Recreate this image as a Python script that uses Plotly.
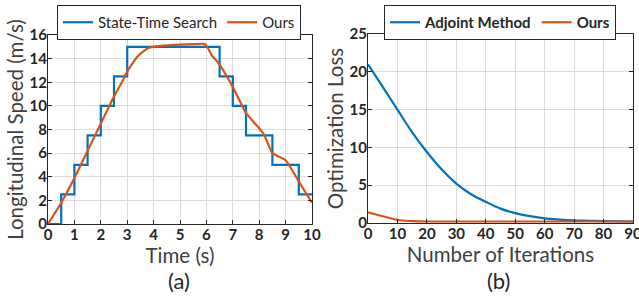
import plotly.graph_objects as go

# ---- data (a) ----
step_t = [0, 0.5, 0.5, 1.0, 1.0, 1.5, 1.5, 2.0, 2.0, 2.5, 2.5, 3.0, 3.0, 6.5, 6.5, 7.0, 7.0, 7.5, 7.5, 8.5, 8.5, 9.5, 9.5, 10]
step_v = [0, 0, 2.5, 2.5, 5, 5, 7.5, 7.5, 10, 10, 12.5, 12.5, 15, 15, 12.5, 12.5, 10, 10, 7.5, 7.5, 5, 5, 2.5, 2.5]
ours_t = [0, 0.5, 1.0, 1.5, 2.0, 2.5, 2.8, 3.0, 3.2, 3.4, 3.6, 3.8, 4.0, 4.5, 5.0, 5.5, 5.9, 6.0, 6.2, 6.5, 7.0, 7.5, 7.8, 8.0, 8.2, 8.5, 9.0, 9.5, 10]
ours_v = [0, 1.8, 3.9, 6.2, 8.5, 10.8, 12.0, 12.9, 13.6, 14.2, 14.6, 14.9, 15.0, 15.12, 15.18, 15.22, 15.25, 15.1, 14.3, 13.5, 11.6, 9.4, 8.6, 8.1, 7.5, 6.0, 5.4, 3.6, 1.8]

# ---- data (b) ----
iters = [0, 5, 10, 15, 20, 25, 30, 35, 40, 45, 50, 55, 60, 65, 70, 75, 80, 85, 90]
adjoint_loss = [21.0, 18.0, 15.0, 12.0, 9.4, 7.1, 5.2, 3.8, 2.8, 1.9, 1.3, 0.9, 0.6, 0.45, 0.35, 0.3, 0.25, 0.22, 0.2]
ours_loss = [1.4, 0.9, 0.4, 0.25, 0.2, 0.2, 0.2, 0.2, 0.2, 0.2, 0.2, 0.2, 0.2, 0.2, 0.2, 0.2, 0.2, 0.2, 0.2]

BLUE = "#0072BD"
ORANGE = "#D95319"
FONT = "Lato"

fig = go.Figure()
fig.add_trace(go.Scatter(x=step_t, y=step_v, mode="lines", name="State-Time Search",
                         line=dict(color=BLUE, width=2.2), xaxis="x", yaxis="y", legend="legend"))
fig.add_trace(go.Scatter(x=ours_t, y=ours_v, mode="lines", name="Ours", line_shape="spline",
                         line=dict(color=ORANGE, width=2.2, smoothing=0.6), xaxis="x", yaxis="y", legend="legend"))
fig.add_trace(go.Scatter(x=iters, y=adjoint_loss, mode="lines", name="Adjoint Method", line_shape="spline",
                         line=dict(color=BLUE, width=2.2), xaxis="x2", yaxis="y2", legend="legend2"))
fig.add_trace(go.Scatter(x=iters, y=ours_loss, mode="lines", name="Ours", line_shape="spline",
                         line=dict(color=ORANGE, width=2.2), xaxis="x2", yaxis="y2", legend="legend2"))

tickfont = dict(family=FONT, size=15, color="#262626", weight="bold")
titlefont = dict(family=FONT, size=20.5, color="#404040")
common = dict(showline=True, linecolor="#262626", linewidth=1, mirror="ticks", ticks="inside",
              ticklen=4, tickcolor="#262626", showgrid=True, gridcolor="#DCDCDC", gridwidth=1,
              zeroline=False, tickfont=tickfont, automargin=True, ticklabeloverflow="allow")

fig.update_layout(
    width=639, height=300, margin=dict(l=0, r=0, t=0, b=0, autoexpand=False),
    plot_bgcolor="white", paper_bgcolor="white",
    xaxis=dict(domain=[48/639, 312/639], range=[0, 10], dtick=1, ticklabelstandoff=-3,
               title=dict(text="Time (s)", font=titlefont, standoff=0), anchor="y", **common),
    yaxis=dict(domain=[76/300, 265/300], range=[0, 16], dtick=2, ticklabelstandoff=-3,
               title=dict(text="Longitudinal Speed (m/s)", font=titlefont, standoff=0), anchor="x", **common),
    xaxis2=dict(domain=[368/639, 633/639], range=[0, 90], dtick=10, ticklabelstandoff=-3,
                title=dict(text="Number of Iterations", font=titlefont, standoff=0), anchor="y2", **common),
    yaxis2=dict(domain=[77/300, 266/300], range=[0, 25], dtick=5, ticklabelstandoff=-3,
                title=dict(text="Optimization Loss", font=titlefont, standoff=0), anchor="x2", **common),
    legend=dict(orientation="h", x=57/639, y=1-5/300, xanchor="left", yanchor="top",
                bordercolor="#262626", borderwidth=1, bgcolor="white", itemwidth=30,
                font=dict(family=FONT, size=15, color="#262626")),
    legend2=dict(orientation="h", x=384/639, y=1-5/300, xanchor="left", yanchor="top",
                 bordercolor="#262626", borderwidth=1, bgcolor="white", itemwidth=30,
                 font=dict(family=FONT, size=15, color="#262626", weight="bold")),
    annotations=[
        dict(text="(a)", x=179/639, y=1-280/300, xref="paper", yref="paper", showarrow=False,
             xanchor="center", yanchor="middle", font=dict(family=FONT, size=22, color="#262626")),
        dict(text="(b)", x=499/639, y=1-280/300, xref="paper", yref="paper", showarrow=False,
             xanchor="center", yanchor="middle", font=dict(family=FONT, size=22, color="#262626")),
    ],
)

fig.write_html("out.html", config={"displayModeBar": False},
               post_script="document.body.style.margin='0';")
